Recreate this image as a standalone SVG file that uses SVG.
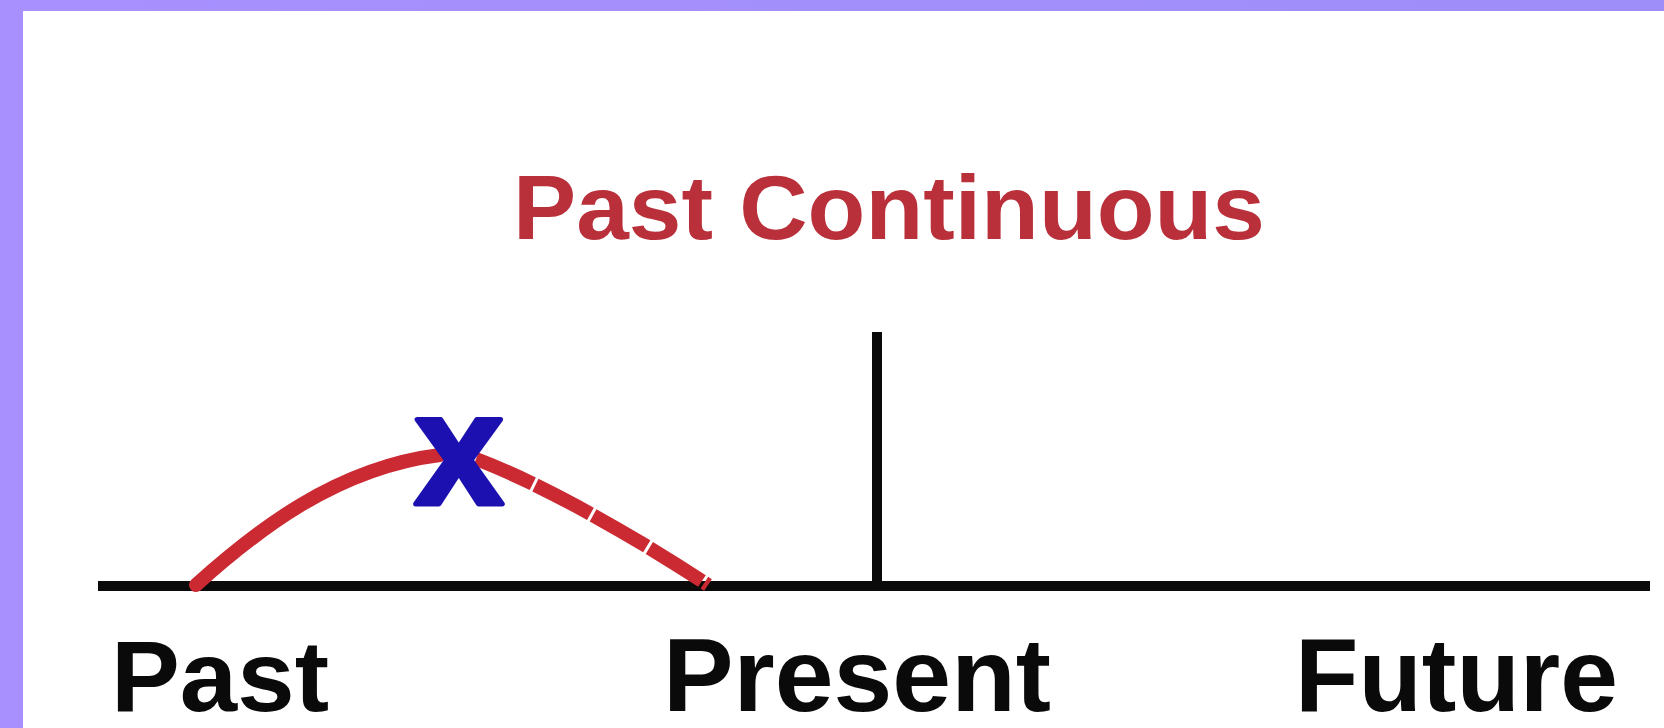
<svg xmlns="http://www.w3.org/2000/svg" width="1664" height="728" viewBox="0 0 1664 728">
<defs>
<linearGradient id="frame" x1="0" y1="0" x2="1" y2="0">
<stop offset="0" stop-color="#a890ff"/>
<stop offset="1" stop-color="#9e8ef9"/>
</linearGradient>
<style>
.lbl{font-family:"Liberation Sans",Arial,sans-serif;font-weight:bold;fill:#0a0a0a;}
.title{font-family:"Liberation Sans",Arial,sans-serif;font-weight:bold;fill:#b9303a;}
.axis{stroke:#0a0a0a;stroke-width:10;fill:none;}
.arc{stroke:#cb2a33;stroke-width:14;fill:none;}
</style>
</defs>
<rect x="0" y="0" width="1664" height="728" fill="url(#frame)"/>
<rect x="23" y="11" width="1641" height="717" fill="#ffffff"/>
<g id="title"><text class="title" x="513" y="239" font-size="91" textLength="752" lengthAdjust="spacingAndGlyphs">Past Continuous</text></g>
<g id="connectors">
<line class="axis" x1="98" y1="586" x2="1650" y2="586"/>
<line class="axis" x1="877" y1="332" x2="877" y2="586"/>
<path class="arc" d="M196,585 C255,532 335,468 440,455" stroke-linecap="round"/>
<path class="arc" d="M476,459 C545,485 640,540 708,585" stroke-dasharray="62,3"/>
</g>
<g id="mark"><text x="459" y="504" font-family="Liberation Sans,Arial,sans-serif" font-weight="bold" font-size="160" fill="#1c10b0" stroke="#1c10b0" stroke-width="5" stroke-linejoin="round" text-anchor="middle">x</text></g>
<g id="past"><text class="lbl" x="111" y="711" font-size="101" textLength="218" lengthAdjust="spacingAndGlyphs">Past</text></g>
<g id="present"><text class="lbl" x="663" y="711" font-size="104" textLength="388" lengthAdjust="spacingAndGlyphs">Present</text></g>
<g id="future"><text class="lbl" x="1295" y="711" font-size="104" textLength="323" lengthAdjust="spacingAndGlyphs">Future</text></g>
</svg>
